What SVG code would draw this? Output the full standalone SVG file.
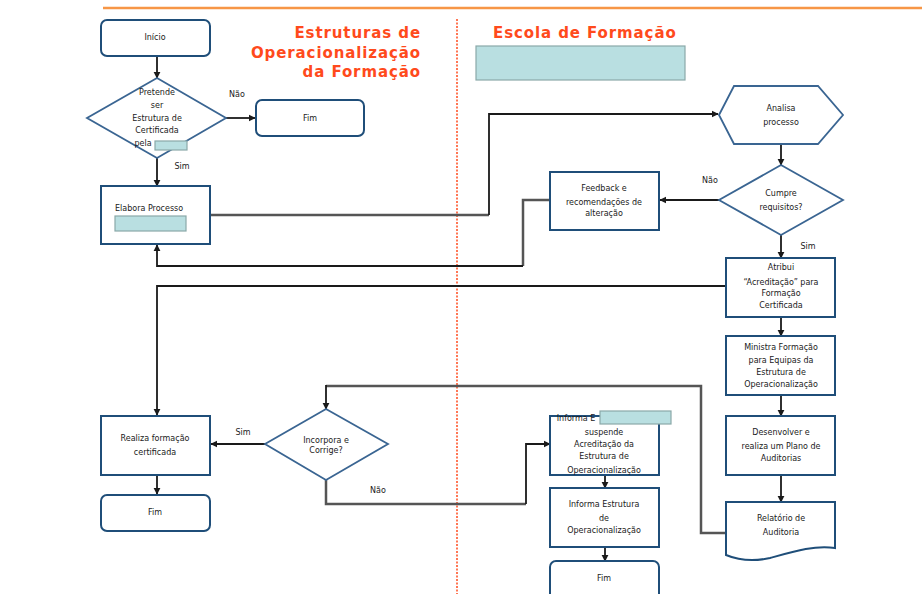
<svg xmlns="http://www.w3.org/2000/svg" width="922" height="594" viewBox="0 0 922 594">
  <style>
    .box { fill: #ffffff; stroke: #1f4e79; stroke-width: 2; }
    .dia { fill: #ffffff; stroke: #3a6592; stroke-width: 1.8; }
    .hl { fill: #b9dfe1; stroke: #8aa9a9; stroke-width: 1.2; }
    .t { font-family: "DejaVu Sans", Verdana, sans-serif; font-size: 8px; fill: #1a1a1a; text-anchor: middle; }
    .ts { font-family: "DejaVu Sans", Verdana, sans-serif; font-size: 8px; fill: #1a1a1a; text-anchor: start; }
    .lbl { font-family: "DejaVu Sans", Verdana, sans-serif; font-size: 8px; fill: #1a1a1a; text-anchor: middle; }
    .title { font-family: "DejaVu Sans", Verdana, sans-serif; font-size: 15px; font-weight: bold; fill: #ff4a1c; letter-spacing: 0.9px; }
    .end { text-anchor: end; }
    .c { fill: none; stroke: #1a1a1a; stroke-width: 1.8; }
    .g { fill: none; stroke: #555555; stroke-width: 2.5; }
  </style>
  <defs>
    <marker id="ah" viewBox="0 0 10 10" refX="9" refY="5" markerWidth="4" markerHeight="4" orient="auto" markerUnits="strokeWidth">
      <path d="M0,0 L10,5 L0,10 Z" fill="#1a1a1a"/>
    </marker>
  </defs>

  <!-- page header rule and lane divider -->
  <line x1="103" y1="8" x2="922" y2="8" stroke="#f79646" stroke-width="2.5"/>
  <line x1="457" y1="19" x2="457" y2="594" stroke="#ff4a1c" stroke-width="1.5" stroke-dasharray="2,1.5"/>

  <!-- lane titles -->
  <g id="lane-left-title">
    <text class="title end" x="421" y="38">Estruturas de</text>
    <text class="title end" x="421" y="58">Operacionalização</text>
    <text class="title end" x="421" y="77">da Formação</text>
  </g>
  <g id="lane-right-title">
    <text class="title" x="493" y="38">Escola de Formação</text>
    <rect class="hl" x="476" y="46" width="209" height="34"/>
  </g>

  <!-- connectors -->
  <g id="connectors">
    <line class="c" x1="157" y1="56" x2="157" y2="78" marker-end="url(#ah)"/>
    <line class="c" x1="226" y1="118" x2="255" y2="118" marker-end="url(#ah)"/>
    <line class="c" x1="157" y1="158" x2="157" y2="186" marker-end="url(#ah)"/>
    <polyline class="g" points="210,215 489,215"/>
    <polyline class="c" points="489,215 489,114 718,114" marker-end="url(#ah)"/>
    <line class="c" x1="781" y1="144" x2="781" y2="165" marker-end="url(#ah)"/>
    <line class="c" x1="719" y1="200" x2="660" y2="200" marker-end="url(#ah)"/>
    <polyline class="g" points="550,200 523,200 523,266"/>
    <polyline class="c" points="523,266 157,266 157,245" marker-end="url(#ah)"/>
    <line class="c" x1="781" y1="235" x2="781" y2="258" marker-end="url(#ah)"/>
    <polyline class="c" points="726,286 157,286 157,415" marker-end="url(#ah)"/>
    <line class="c" x1="781" y1="317" x2="781" y2="336" marker-end="url(#ah)"/>
    <line class="c" x1="781" y1="395" x2="781" y2="416" marker-end="url(#ah)"/>
    <line class="c" x1="781" y1="475" x2="781" y2="502" marker-end="url(#ah)"/>
    <polyline class="g" points="726,533 701,533 701,386 326,386"/>
    <line class="c" x1="326" y1="385" x2="326" y2="409" marker-end="url(#ah)"/>
    <line class="c" x1="265" y1="444" x2="211" y2="444" marker-end="url(#ah)"/>
    <line class="c" x1="157" y1="475" x2="157" y2="494" marker-end="url(#ah)"/>
    <polyline class="g" points="326,480 326,504 526,504"/>
    <polyline class="c" points="526,504 526,444 550,444" marker-end="url(#ah)"/>
    <line class="c" x1="605" y1="475" x2="605" y2="488" marker-end="url(#ah)"/>
    <line class="c" x1="605" y1="547" x2="605" y2="561" marker-end="url(#ah)"/>
  </g>

  <!-- connector labels -->
  <g id="labels">
    <text class="lbl" x="237" y="97">Não</text>
    <text class="lbl" x="182" y="169">Sim</text>
    <text class="lbl" x="710" y="183">Não</text>
    <text class="lbl" x="808" y="249">Sim</text>
    <text class="lbl" x="243" y="435">Sim</text>
    <text class="lbl" x="378" y="493">Não</text>
  </g>

  <!-- left lane -->
  <g id="inicio">
    <rect class="box" x="101" y="20" width="109" height="36" rx="6"/>
    <text class="t" x="155" y="40">Início</text>
  </g>
  <g id="pretende">
    <polygon class="dia" points="157,78 226,118 157,158 87,118"/>
    <text class="t" x="157" y="95">Pretende</text>
    <text class="t" x="157" y="108">ser</text>
    <text class="t" x="157" y="121">Estrutura de</text>
    <text class="t" x="157" y="133">Certificada</text>
    <text class="t" x="143" y="146">pela</text>
    <rect class="hl" x="155" y="141" width="32" height="9"/>
  </g>
  <g id="fim-1">
    <rect class="box" x="256" y="100" width="108" height="36" rx="6"/>
    <text class="t" x="310" y="121">Fim</text>
  </g>
  <g id="elabora">
    <rect class="box" x="101" y="186" width="109" height="58"/>
    <text class="ts" x="115" y="211">Elabora Processo</text>
    <rect class="hl" x="115" y="216" width="71" height="15"/>
  </g>
  <g id="realiza">
    <rect class="box" x="101" y="416" width="109" height="59"/>
    <text class="t" x="155" y="441">Realiza  formação</text>
    <text class="t" x="155" y="455">certificada</text>
  </g>
  <g id="fim-2">
    <rect class="box" x="101" y="495" width="109" height="36" rx="6"/>
    <text class="t" x="155" y="515">Fim</text>
  </g>
  <g id="incorpora">
    <polygon class="dia" points="326,409 388,444 326,480 265,444"/>
    <text class="t" x="326" y="443">Incorpora e</text>
    <text class="t" x="326" y="453">Corrige?</text>
  </g>

  <!-- right lane -->
  <g id="analisa">
    <polygon class="dia" points="719,115 734,86 818,86 843,115 818,144 734,144"/>
    <text class="t" x="781" y="111">Analisa</text>
    <text class="t" x="781" y="125">processo</text>
  </g>
  <g id="cumpre">
    <polygon class="dia" points="781,165 843,200 781,235 719,200"/>
    <text class="t" x="781" y="196">Cumpre</text>
    <text class="t" x="781" y="210">requisitos?</text>
  </g>
  <g id="feedback">
    <rect class="box" x="550" y="172" width="109" height="58"/>
    <text class="t" x="604" y="191">Feedback e</text>
    <text class="t" x="604" y="205">recomendações de</text>
    <text class="t" x="604" y="216">alteração</text>
  </g>
  <g id="atribui">
    <rect class="box" x="726" y="258" width="109" height="59"/>
    <text class="t" x="781" y="270">Atribui</text>
    <text class="t" x="781" y="285">“Acreditação” para</text>
    <text class="t" x="781" y="296">Formação</text>
    <text class="t" x="781" y="308">Certificada</text>
  </g>
  <g id="ministra">
    <rect class="box" x="726" y="336" width="109" height="59"/>
    <text class="t" x="781" y="350">Ministra Formação</text>
    <text class="t" x="781" y="363">para Equipas da</text>
    <text class="t" x="781" y="375">Estrutura de</text>
    <text class="t" x="781" y="387">Operacionalização</text>
  </g>
  <g id="desenvolver">
    <rect class="box" x="726" y="416" width="109" height="59"/>
    <text class="t" x="781" y="435">Desenvolver e</text>
    <text class="t" x="781" y="449">realiza um Plano de</text>
    <text class="t" x="781" y="461">Auditorias</text>
  </g>
  <g id="relatorio">
    <path class="box" d="M726,502 H835 V548 C815,545 795,551 770,558 C752,562 738,560 726,555 Z"/>
    <text class="t" x="781" y="521">Relatório de</text>
    <text class="t" x="781" y="535">Auditoria</text>
  </g>
  <g id="informa-suspende">
    <rect class="box" x="550" y="416" width="109" height="59"/>
    <text class="t" x="576" y="421">Informa E</text>
    <text class="t" x="604" y="435">suspende</text>
    <text class="t" x="604" y="447">Acreditação da</text>
    <text class="t" x="604" y="459">Estrutura de</text>
    <text class="t" x="604" y="473">Operacionalização</text>
    <rect class="hl" x="600" y="411" width="71" height="13"/>
  </g>
  <g id="informa-estrutura">
    <rect class="box" x="550" y="488" width="109" height="59"/>
    <text class="t" x="604" y="507">Informa Estrutura</text>
    <text class="t" x="604" y="521">de</text>
    <text class="t" x="604" y="533">Operacionalização</text>
  </g>
  <g id="fim-3">
    <rect class="box" x="550" y="561" width="109" height="50" rx="6"/>
    <text class="t" x="604" y="581">Fim</text>
  </g>
</svg>
